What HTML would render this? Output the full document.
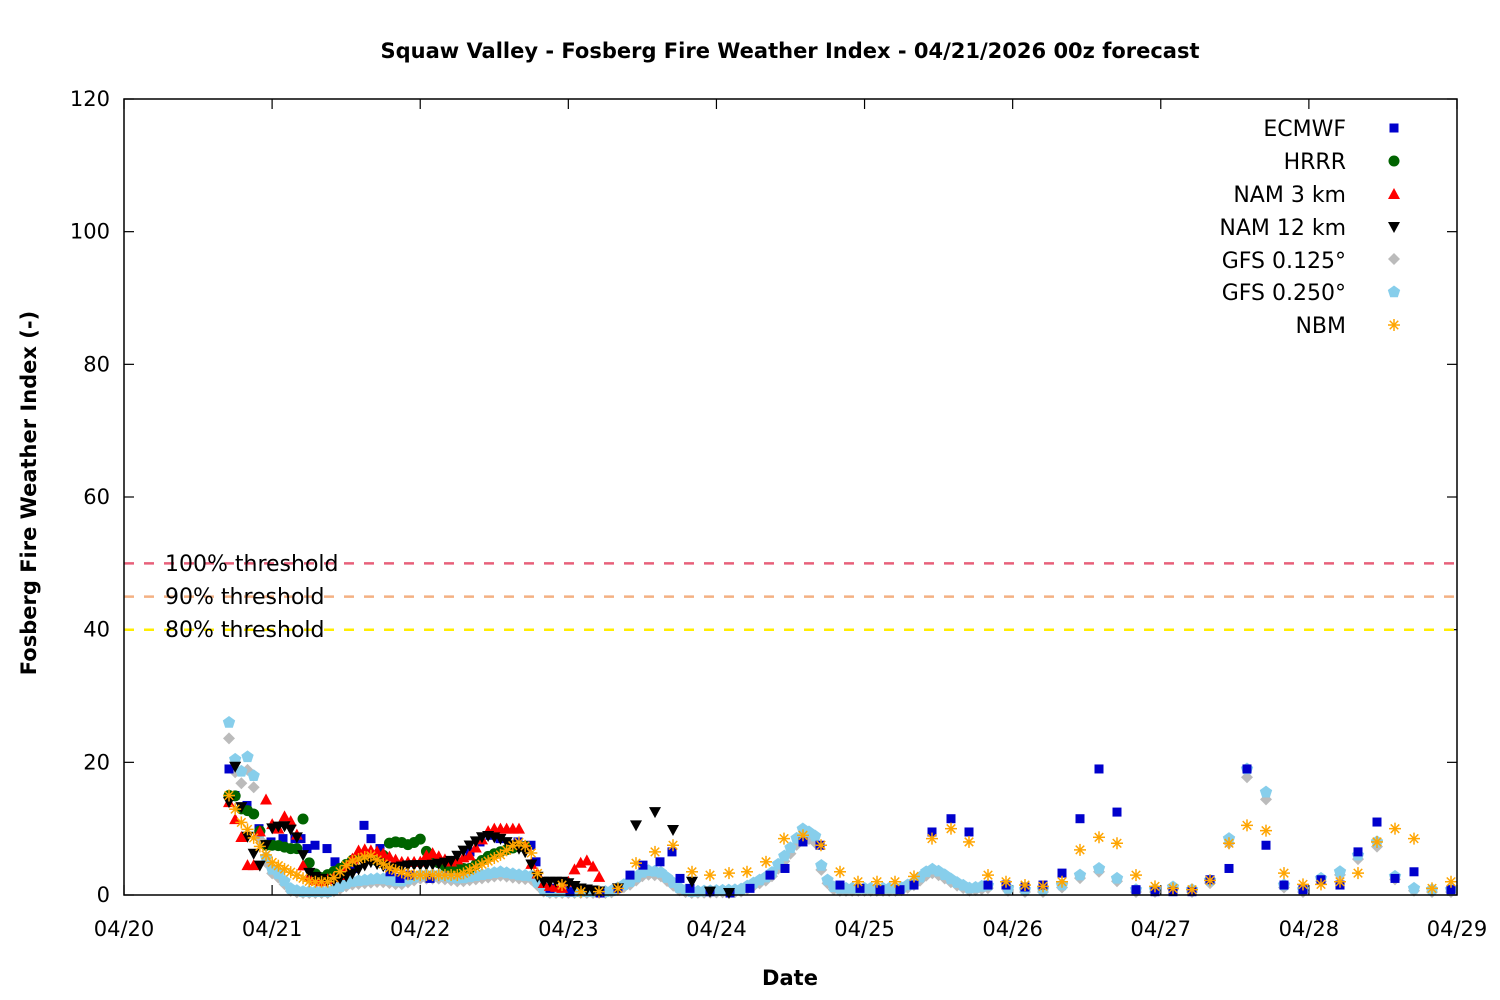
<!DOCTYPE html>
<html><head><meta charset="utf-8"><style>
html,body{margin:0;padding:0;background:#fff;}
svg{display:block;font-family:"DejaVu Sans","Liberation Sans",sans-serif;}
</style></head><body>
<svg id="s" width="1500" height="1000" xmlns="http://www.w3.org/2000/svg">
<rect width="1500" height="1000" fill="#fff"/>
<text x="790" y="58" text-anchor="middle" font-size="21" font-weight="bold">Squaw Valley - Fosberg Fire Weather Index - 04/21/2026 00z forecast</text>
<g id="grid"></g>
<g id="thr">
<line x1="124" y1="563.4" x2="1457" y2="563.4" stroke="#e8607a" stroke-width="2.5" stroke-dasharray="10,10"/>
<line x1="124" y1="596.6" x2="1457" y2="596.6" stroke="#f4b183" stroke-width="2.5" stroke-dasharray="10,10"/>
<line x1="124" y1="629.7" x2="1457" y2="629.7" stroke="#ffee00" stroke-width="2.5" stroke-dasharray="10,10"/>
<text x="165" y="571" font-size="22">100% threshold</text>
<text x="165" y="604" font-size="22">90% threshold</text>
<text x="165" y="637" font-size="22">80% threshold</text>
</g>
<g id="pts"></g>
<rect x="124" y="99" width="1333" height="796" fill="none" stroke="#000" stroke-width="1.5"/>
<text x="40" y="497" text-anchor="middle" font-size="21" font-weight="bold" transform="rotate(-90 36 497)">Fosberg Fire Weather Index (-)</text>
<text x="790" y="985" text-anchor="middle" font-size="21" font-weight="bold">Date</text>
<g id="leg" font-size="22" text-anchor="end">
<text x="1346" y="136">ECMWF</text>
<text x="1346" y="169">HRRR</text>
<text x="1346" y="202">NAM 3 km</text>
<text x="1346" y="235">NAM 12 km</text>
<text x="1346" y="268">GFS 0.125°</text>
<text x="1346" y="300">GFS 0.250°</text>
<text x="1346" y="333">NBM</text>
</g>
</svg>
<script>
var NS="http://www.w3.org/2000/svg";
function el(p,t,a){var e=document.createElementNS(NS,t);for(var k in a)e.setAttribute(k,a[k]);p.appendChild(e);return e;}
var g=document.getElementById('grid'),P=document.getElementById('pts'),L=document.getElementById('leg');
function Y(v){return 895-v*6.6333;}
for(var v=0;v<=120;v+=20){var y=Y(v);
 el(g,'line',{x1:124,y1:y,x2:134,y2:y,stroke:'#000','stroke-width':1.2});
 el(g,'line',{x1:1447,y1:y,x2:1457,y2:y,stroke:'#000','stroke-width':1.2});
 var t=el(g,'text',{x:110,y:y+7,'text-anchor':'end','font-size':21});t.textContent=v;}
for(var d=0;d<=9;d++){var x=124+d*148.11;
 el(g,'line',{x1:x,y1:895,x2:x,y2:885,stroke:'#000','stroke-width':1.2});
 el(g,'line',{x1:x,y1:99,x2:x,y2:109,stroke:'#000','stroke-width':1.2});
 var t=el(g,'text',{x:x,y:936,'text-anchor':'middle','font-size':21});t.textContent='04/'+(20+d);}
function mk(type,x,y){
 if(type=='sq')el(P,'rect',{x:x-4.5,y:y-4.5,width:9,height:9,fill:'#0000cc'});
 else if(type=='ci')el(P,'circle',{cx:x,cy:y,r:5.5,fill:'#006400'});
 else if(type=='tu')el(P,'polygon',{points:(x-6)+','+(y+5)+' '+(x+6)+','+(y+5)+' '+x+','+(y-6),fill:'#ff0000'});
 else if(type=='td')el(P,'polygon',{points:(x-6)+','+(y-5)+' '+(x+6)+','+(y-5)+' '+x+','+(y+6),fill:'#000'});
 else if(type=='di')el(P,'polygon',{points:x+','+(y-6)+' '+(x+6)+','+y+' '+x+','+(y+6)+' '+(x-6)+','+y,fill:'#bbbbbb'});
 else if(type=='pe'){var s='';for(var i=0;i<5;i++){var a=-Math.PI/2+i*2*Math.PI/5;s+=(x+6.5*Math.cos(a))+','+(y+6.5*Math.sin(a))+' ';}el(P,'polygon',{points:s,fill:'#87ceeb'});}
 else if(type=='st'){for(var i=0;i<4;i++){var a=i*Math.PI/4;el(P,'line',{x1:x-6*Math.cos(a),y1:y-6*Math.sin(a),x2:x+6*Math.cos(a),y2:y+6*Math.sin(a),stroke:'#ffa500','stroke-width':1.5});}}
}
function ser(type,kp,step){
 var x0=kp[0][0],xe=kp[kp.length-1][0];
 for(var x=x0;x<=xe+0.01;x+=step){
  var i=0;while(i<kp.length-2&&kp[i+1][0]<x)i++;
  var a=kp[i],b=kp[i+1]||a,f=b[0]==a[0]?0:(x-a[0])/(b[0]-a[0]);f=Math.max(0,Math.min(1,f));
  mk(type,x,Y(a[1]+(b[1]-a[1])*f));}
}
function pts(type,kp){kp.forEach(function(p){mk(type,p[0],Y(p[1]));});}
var gfs1=[[229,26],[235,20.5],[241,18.5],[247,21],[253,19],[259,10],[265,6],[271,4],[280,3],[290,1],[300,0.5],[330,0.5],[350,2],[380,2.5],[400,2],[420,3],[440,3],[460,2.5],[480,3],[500,3.5],[520,3],[535,2.8],[540,1],[550,0.5],[610,0.5],[630,2],[645,3.7],[660,3.5],[680,1],[690,0.5],[740,0.8],[770,3],[790,7],[803,10],[815,9],[820,5],[826,2.5],[835,1],[900,1],[915,2],[930,4],[940,3.5],[955,2],[970,1],[990,1.5]];
var gfs3=[[1008,1],[1025,0.8],[1043,0.8],[1062,1.5],[1080,3],[1099,4],[1117,2.5],[1136,0.8],[1155,0.8],[1173,1.2],[1192,0.8],[1210,2.2],[1229,8.5],[1247,19],[1266,15.5],[1284,1.5],[1303,0.8],[1321,2.5],[1340,3.5],[1358,6],[1377,8],[1395,2.8],[1414,1],[1432,0.8],[1451,0.8]];
ser('di',gfs1.map(function(p){return [p[0],Math.max(0.3,p[1]*0.92-0.3)];}),6.17);
pts('di',gfs3.map(function(p){return [p[0],Math.max(0.3,p[1]*0.95-0.3)];}));
ser('pe',gfs1,6.17);pts('pe',gfs3);
pts('sq',[[229,19],[235,15],[247,13.5],[259,10],[271,8],[283,8.5],[295,8.5],[301,8.5],[307,7],[315,7.5],[327,7],[335,5],[353,4],[364,10.5],[371,8.5],[380,7],[390,3.5],[400,2.5],[410,3],[430,2.5],[450,4],[470,6.5],[480,8],[490,9],[500,8.5],[518,8],[531,7.5],[536,5],[550,1],[570,0.5],[600,0.3],[618,1],[630,3],[643,4.5],[660,5],[672,6.5],[680,2.5],[690,1],[710,0.5],[730,0.3],[750,1],[770,3],[785,4],[803,8],[820,7.5],[840,1.5],[860,1],[880,0.8],[900,0.8],[914,1.5],[932,9.5],[951,11.5],[969,9.5],[988,1.5],[1006,1.5],[1025,1.2],[1043,1.5],[1062,3.3],[1080,11.5],[1099,19],[1117,12.5],[1136,0.8],[1155,0.5],[1173,0.5],[1192,0.5],[1210,2.3],[1229,4],[1247,19],[1266,7.5],[1284,1.5],[1303,0.8],[1321,2.3],[1340,1.5],[1358,6.5],[1377,11],[1395,2.5],[1414,3.5],[1451,0.8]]);
ser('ci',[[229,15],[235,15],[241,13],[253,12.5],[265,7.5],[277,7.5],[290,7],[297,7],[303,11.5],[310,4],[320,2.5],[340,4],[360,6],[380,5],[390,8],[400,8],[410,7.5],[420,8.5],[430,5.5],[450,4],[470,4],[490,6],[510,7],[525,7.5],[530,3]],6.17);
ser('tu',[[229,14],[241,9],[247,4.5],[255,4.5],[265,15],[275,9],[285,12],[295,10.5],[305,3],[320,2],[340,3],[360,7],[380,6.5],[400,5],[420,5],[430,6.5],[450,5],[470,6],[490,10],[510,10],[520,10],[530,5],[545,1.5],[565,1],[575,4],[585,5.5],[595,4],[605,1]],6.17);
ser('td',[[229,14],[235,19.5],[241,13.5],[247,9],[259,4],[271,10],[283,10.5],[295,9.5],[310,3],[330,2],[350,3],[370,5],[390,4],[410,4.5],[430,4.5],[450,5],[470,7.5],[485,9],[500,8.5],[525,6.5],[540,2],[565,2],[580,1],[600,0.5]],6.17);
pts('td',[[618,1],[636,10.5],[655,12.5],[673,9.8],[692,2],[710,0.5],[729,0.3]]);
ser('st',[[229,15],[241,11],[247,10],[259,7.5],[271,5],[290,3.5],[310,2],[330,2],[350,5],[370,6],[390,4],[410,3],[440,3],[460,3],[480,4.5],[500,6],[518,8],[530,7],[540,2]],6.17);
pts('st',[[562,1.5],[581,0.5],[599,0.5],[618,1],[636,4.8],[655,6.5],[673,7.5],[692,3.5],[710,3],[729,3.3],[747,3.5],[766,5],[784,8.5],[803,9],[821,7.5],[840,3.5],[858,2],[877,2],[895,2],[914,2.8],[932,8.5],[951,10],[969,8],[988,3],[1006,2],[1025,1.5],[1043,1.3],[1062,2],[1080,6.8],[1099,8.7],[1117,7.8],[1136,3],[1155,1.3],[1173,1],[1192,0.8],[1210,2.2],[1229,7.8],[1247,10.5],[1266,9.7],[1284,3.3],[1303,1.6],[1321,1.6],[1340,2],[1358,3.3],[1377,8],[1395,10],[1414,8.5],[1432,1],[1451,2]]);
var P2=P;P=L;
mk('sq',1394,128);mk('ci',1394,161);mk('tu',1394,194);mk('td',1394,227);mk('di',1394,259);mk('pe',1394,292);mk('st',1394,325);
P=P2;
</script>
</body></html>
